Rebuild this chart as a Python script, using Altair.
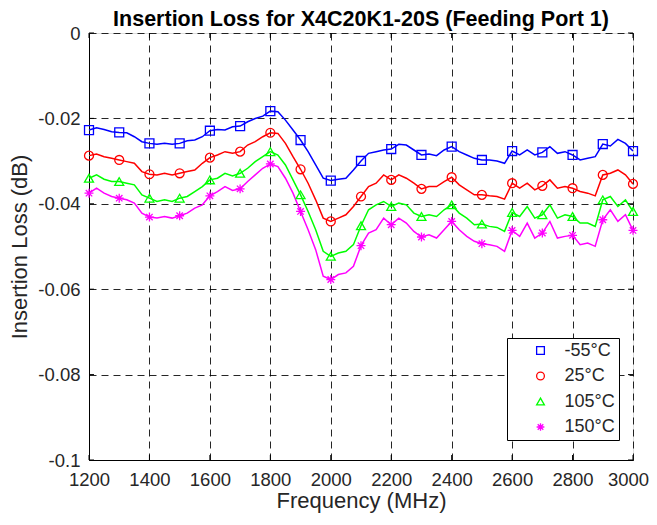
import altair as alt
import pandas as pd

# Frequency grid (MHz) of the measured traces
freq = list(range(1200, 3001, 25))

series_names = ["-55°C", "25°C", "105°C", "150°C"]
series_colors = ["#0000FF", "#FF0000", "#00FF00", "#FF00FF"]

# Insertion loss magnitudes in milli-dB (value in dB = -loss/1000)
loss_m55 = [22.73, 22.19, 22.58, 23.12, 23.28, 23.36, 24.29, 25.46, 25.85, 26.08, 25.85, 26.08, 25.85,
            25.22, 25.07, 24.29, 22.89, 22.58, 22.73, 21.96, 21.80, 20.79, 20.01, 19.47, 18.30,
            18.46, 20.40, 22.73, 25.07, 27.79, 30.90, 34.01, 34.56, 34.25, 34.01, 32.07, 29.97,
            28.18, 27.79, 27.40, 27.17, 26.08, 26.24, 27.40, 28.57, 28.34, 28.72, 27.40, 26.62,
            27.79, 28.57, 29.35, 29.74, 29.74, 29.97, 30.51, 27.64, 28.57, 27.40, 28.57, 27.95,
            26.62, 28.18, 27.79, 28.57, 29.74, 29.35, 28.96, 26.00, 26.47, 24.91, 25.85, 27.64]
loss_25 = [28.72, 28.34, 28.96, 29.35, 29.74, 30.12, 30.51, 32.46, 33.08, 33.23, 32.85, 33.23, 32.85,
           32.46, 32.07, 30.51, 29.19, 28.57, 27.79, 28.18, 27.79, 26.24, 25.46, 24.29, 23.36,
           23.51, 25.85, 28.96, 31.91, 35.18, 39.07, 43.35, 44.13, 43.35, 42.57, 40.63, 38.29,
           35.96, 35.18, 33.23, 34.40, 33.23, 34.01, 35.18, 36.50, 35.96, 35.96, 34.79, 33.78,
           35.57, 36.74, 37.90, 37.90, 38.14, 38.29, 38.91, 35.18, 36.35, 35.18, 36.74, 35.80,
           34.40, 36.35, 35.96, 36.35, 37.13, 37.51, 38.14, 33.23, 32.85, 32.07, 33.23, 35.34]
loss_105 = [34.01, 33.23, 34.25, 34.79, 34.79, 35.18, 35.57, 37.90, 38.68, 39.46, 39.07, 39.46, 38.68,
            38.29, 37.13, 35.96, 34.40, 34.01, 32.85, 33.47, 32.85, 31.68, 30.12, 28.96, 27.79,
            28.57, 30.90, 34.40, 37.90, 41.79, 46.07, 51.13, 52.30, 51.52, 51.13, 49.57, 45.14,
            41.40, 40.24, 39.46, 40.63, 39.85, 40.24, 42.18, 42.96, 42.57, 42.96, 41.40, 40.24,
            42.18, 43.35, 44.90, 44.75, 45.29, 45.53, 46.46, 42.03, 42.96, 40.63, 43.35, 42.57,
            40.24, 43.35, 42.57, 42.96, 44.52, 44.52, 45.29, 39.07, 38.29, 40.63, 39.07, 41.79]
loss_150 = [37.51, 36.35, 37.51, 38.29, 38.68, 39.07, 39.85, 42.18, 43.11, 43.35, 42.96, 43.35, 42.80,
            42.18, 41.01, 40.24, 38.14, 37.13, 35.96, 36.89, 36.50, 34.79, 33.23, 31.68, 30.67,
            31.29, 34.01, 37.51, 41.79, 46.07, 50.74, 56.96, 57.74, 56.57, 56.18, 54.63, 49.81,
            46.85, 46.07, 43.35, 44.90, 43.35, 44.52, 46.46, 47.78, 47.24, 48.02, 46.07, 44.13,
            46.07, 47.63, 48.79, 49.34, 49.57, 49.96, 51.13, 46.23, 47.63, 44.52, 48.02, 46.85,
            44.13, 48.02, 47.63, 47.39, 49.57, 49.18, 49.96, 43.74, 41.40, 44.13, 42.57, 46.23]

x_ticks = [1200, 1400, 1600, 1800, 2000, 2200, 2400, 2600, 2800, 3000]
y_ticks = [-0.1, -0.08, -0.06, -0.04, -0.02, 0]

rows = []
for name, vals in zip(series_names, [loss_m55, loss_25, loss_105, loss_150]):
    for f, v in zip(freq, vals):
        rows.append({"f": f, "loss": -v / 1000.0, "series": name})
df = pd.DataFrame(rows)

W, H = 544, 427
FONT = "Liberation Sans"
TXT = "#262626"

asterisk = "M-1,0L1,0M0,-1L0,1M-0.72,-0.72L0.72,0.72M-0.72,0.72L0.72,-0.72"

xscale = alt.Scale(domain=[1200, 3000], nice=False, zero=False)
yscale = alt.Scale(domain=[-0.1, 0], nice=False, zero=False)
cscale = alt.Scale(domain=series_names, range=series_colors)
sscale = alt.Scale(domain=series_names, range=["square", "circle", "triangle-up", asterisk])

xaxis = alt.Axis(values=x_ticks, title="Frequency (MHz)", grid=True, gridDash=[7, 5],
                 gridColor="#000000", gridOpacity=0.85, tickSize=0, labelPadding=10,
                 labelFontSize=18.5, titleFontSize=22, titleFontWeight="normal",
                 titlePadding=2, labelColor=TXT, titleColor=TXT, domainColor="#000",
                 labelFont=FONT, titleFont=FONT, format="d", labelFlush=False,
                 labelOffset={"condition": {"test": "datum.value == 3000", "value": -5}, "value": 0})
yaxis = alt.Axis(values=y_ticks, title="Insertion Loss (dB)", grid=True, gridDash=[7, 5],
                 gridColor="#000000", gridOpacity=0.85, tickSize=0, labelPadding=9,
                 labelFontSize=18.5, titleFontSize=22, titleFontWeight="normal",
                 titlePadding=6, labelColor=TXT, titleColor=TXT, domainColor="#000",
                 labelFont=FONT, titleFont=FONT, labelFlush=False,
                 labelExpr="datum.value == 0 ? '0' : '' + datum.value")

legend = alt.Legend(orient="none", legendX=418, legendY=305,
                    labelFontSize=18, labelFont=FONT, labelColor=TXT,
                    symbolSize=60, symbolStrokeWidth=1.3, symbolType="square",
                    symbolOffset=21, labelOffset=15, rowPadding=7.5,
                    padding=3.5, strokeColor="#000", fillColor="#fff")

base = alt.Chart(df)

lines = base.mark_line(strokeWidth=1.5).encode(
    x=alt.X("f:Q", scale=xscale, axis=xaxis),
    y=alt.Y("loss:Q", scale=yscale, axis=yaxis),
    color=alt.Color("series:N", scale=cscale, legend=legend, title=None),
)

points = base.mark_point(filled=False, size=80, strokeWidth=1.3, opacity=1).encode(
    x=alt.X("f:Q"),
    y=alt.Y("loss:Q"),
    color=alt.Color("series:N", scale=cscale, legend=legend, title=None),
    shape=alt.Shape("series:N", scale=sscale, legend=legend, title=None),
).transform_filter("datum.f % 100 == 0")

xt = pd.DataFrame({"t": x_ticks})
yt = pd.DataFrame({"t": y_ticks})

xtick_bot = alt.Chart(xt).mark_rule(color="#000", strokeWidth=1).encode(
    x=alt.X("t:Q", scale=xscale), y=alt.value(H - 5), y2=alt.value(H))
xtick_top = alt.Chart(xt).mark_rule(color="#000", strokeWidth=1).encode(
    x=alt.X("t:Q", scale=xscale), y=alt.value(0), y2=alt.value(5))
ytick_l = alt.Chart(yt).mark_rule(color="#000", strokeWidth=1).encode(
    y=alt.Y("t:Q", scale=yscale), x=alt.value(0), x2=alt.value(5))
ytick_r = alt.Chart(yt).mark_rule(color="#000", strokeWidth=1).encode(
    y=alt.Y("t:Q", scale=yscale), x=alt.value(W - 5), x2=alt.value(W))

chart = alt.layer(lines, points, xtick_bot, xtick_top, ytick_l, ytick_r).properties(
    width=W, height=H,
    title=alt.TitleParams("Insertion Loss for X4C20K1-20S (Feeding Port 1)", fontSize=21.5,
                          fontWeight="bold", font=FONT, color="#000", offset=0, dy=6,
                          anchor="middle"),
    autosize=alt.AutoSizeParams(type="none"),
    padding={"left": 81, "top": 25, "right": 16, "bottom": 55},
).configure_view(
    stroke="#000", strokeWidth=1
).configure(background="#ffffff")

chart.save("out.html", embed_options={"renderer": "svg", "actions": False})
